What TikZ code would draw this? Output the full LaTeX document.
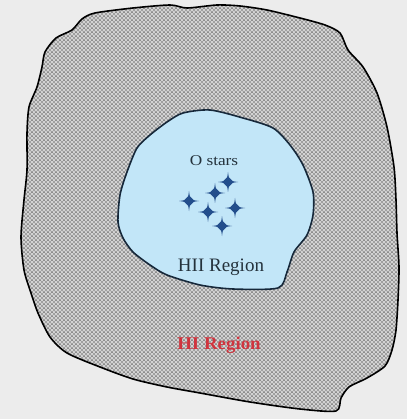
\documentclass[tikz,border=0pt]{standalone}
\usepackage{fontspec}
\setmainfont{Liberation Serif}
\usetikzlibrary{patterns.meta}
\definecolor{bgcol}{HTML}{ECECEC}
\definecolor{outergray}{HTML}{C6C6C6}
\definecolor{innerblue}{HTML}{C2E6F8}
\definecolor{innerline}{HTML}{16283A}
\definecolor{starblue}{HTML}{234E8C}
\definecolor{labeldark}{HTML}{24323C}
\definecolor{labelred}{HTML}{D0343E}
\tikzdeclarepattern{
  name=hidots, type=colored,
  bounding box={(0pt,0pt) and (4.4pt,4.4pt)},
  tile size={(4.4pt,4.4pt)},
  code={
    \fill[black!85] (1.1pt,1.1pt) circle (0.72pt);
    \fill[black!85] (3.3pt,3.3pt) circle (0.72pt);
    \fill[white] (3.3pt,1.1pt) circle (0.7pt);
    \fill[white] (1.1pt,3.3pt) circle (0.7pt);
  }}
\tikzset{
  outerblob/.style={preaction={fill=outergray}, pattern=hidots, draw=black, line width=1.6pt, line join=round},
  innerblob/.style={fill=innerblue, draw=innerline, line width=1.6pt, line join=round},
  starfour/.style={fill=starblue},
  lab/.style={inner sep=0pt}
}
\newcommand\fourpoint[1]{%
  \fill[starfour, shift={#1}] (0,-10) .. controls (0.8,-4) .. (2.8,-2.8) .. controls (4,-0.8) .. (10,0)
   .. controls (4,0.8) .. (2.8,2.8) .. controls (0.8,4) .. (0,10)
   .. controls (-0.8,4) .. (-2.8,2.8) .. controls (-4,0.8) .. (-10,0)
   .. controls (-4,-0.8) .. (-2.8,-2.8) .. controls (-0.8,-4) .. (0,-10) -- cycle;}
\begin{document}
\begin{tikzpicture}[x=1pt,y=-1pt]
\useasboundingbox[fill=bgcol] (0,0) rectangle (407,419);
% outer HI region
\path[outerblob] plot[smooth cycle, tension=0.45] coordinates {
 (45,52) (56,38) (72,30) (82,19) (95,13) (133,8) (170,5) (187,8) (217,5)
 (240,6) (267,10) (300,18) (325,25) (340,33) (348,50) (363,67) (377,93)
 (387,127) (394,167) (396,200) (397,233) (399,267) (398,300) (396,330)
 (392,350) (385,366) (367,378) (349,387) (341,398) (336,411) (300,409)
 (250,402) (200,393) (167,387) (133,379) (100,367) (67,353) (50,337)
 (38,313) (31,293) (24,270) (21,237) (24,200) (27,170) (27,133) (29,107)
 (37,87) (42,67)};
% inner HII region
\path[innerblob] plot[smooth cycle, tension=0.45] coordinates {
 (167,122) (183,113) (210,110) (243,118) (273,128) (290,145) (303,165)
 (313,192) (313,215) (307,235) (294,252) (287,272) (278,288) (233,289)
 (200,285) (167,275) (150,265) (133,252) (123,238) (118,222) (120,195)
 (127,172) (137,148) (150,135)};
% labels
\node[lab, text=labeldark, font=\fontsize{15}{15}\selectfont, xscale=1.15] (ostars) at (214,161) {O stars};
\node[lab, text=labeldark, font=\fontsize{19}{19}\selectfont] (hii) at (221,267) {HII Region};
\node[lab, text=labelred, font=\bfseries\fontsize{18}{18}\selectfont, xscale=1.05] (hi) at (219,345) {HI Region};
% O stars
\fourpoint{(228,182)}
\fourpoint{(215,193)}
\fourpoint{(189,201)}
\fourpoint{(235,208)}
\fourpoint{(208,212)}
\fourpoint{(222,226)}
\end{tikzpicture}
\end{document}
